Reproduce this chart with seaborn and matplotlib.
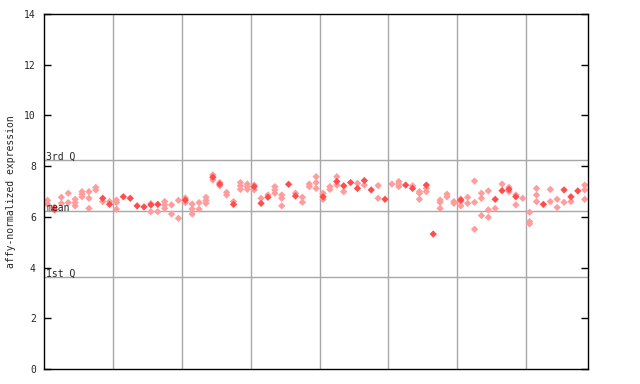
import numpy as np
import pandas as pd
import matplotlib
matplotlib.use("Agg")
import matplotlib.pyplot as plt
import seaborn as sns

# ── data (79 samples, 8 groups) ──
# values drawn as solid diamonds (overlapping replicates)
solid = [
    [], [6.28], [], [], [], [], [], [], [6.73], [6.49],
    [], [6.79], [6.73], [6.43], [6.39], [6.47], [6.49], [], [], [],
    [6.66], [], [], [], [7.56], [7.29], [], [6.49], [], [],
    [7.19], [6.53], [6.77], [], [], [7.28], [6.82], [], [], [],
    [6.79], [], [7.39], [7.22], [7.35], [7.12], [7.43], [7.06], [], [6.69],
    [], [], [7.25], [7.12], [], [7.25], [5.32], [], [], [],
    [6.66], [], [], [], [], [6.69], [7.03], [7.08], [6.79], [],
    [], [], [6.49], [], [], [7.06], [6.79], [7.02], [],
]
# values drawn as lighter (dithered) diamonds
light = [
    [6.65, 6.5], [6.38], [6.77, 6.53], [6.93, 6.56], [6.69, 6.56, 6.43],
    [6.99, 6.89, 6.79], [6.99, 6.73, 6.33], [7.16, 7.06], [6.6], [6.6],
    [6.66, 6.56, 6.3], [], [], [], [], [6.52, 6.2], [6.2], [6.6, 6.47, 6.33], [6.47, 6.11], [6.65, 5.94],
    [6.74, 6.56], [6.5, 6.31, 6.11], [6.56, 6.3], [6.77, 6.64, 6.53], [7.65, 7.45], [7.35, 7.22], [6.96, 6.86], [6.6], [7.35, 7.22, 7.08], [7.29, 7.19, 7.08],
    [7.25, 7.06], [6.73], [6.86], [7.19, 7.06, 6.93], [6.86, 6.73, 6.43], [], [6.93], [6.77, 6.57], [7.29, 7.19], [7.58, 7.35, 7.12],
    [6.93, 6.69], [7.19, 7.08], [7.58, 7.25], [6.99], [], [7.32], [7.25], [], [7.23, 6.73], [],
    [7.29], [7.39, 7.29, 7.19], [], [7.22], [6.99, 6.93, 6.69], [7.12, 6.99], [], [6.66, 6.57, 6.33], [6.89, 6.79], [6.6, 6.53],
    [6.7, 6.6, 6.43], [6.77, 6.53], [7.41, 6.57, 5.51], [6.93, 6.73, 6.05], [7.02, 6.27, 5.98], [6.33], [7.29], [7.16, 6.99], [6.86, 6.47], [6.73],
    [6.18, 5.81, 5.72], [7.12, 6.86, 6.6], [], [7.08, 6.6], [6.69, 6.37], [6.57], [6.6], [], [7.25, 7.06, 6.69],
]
n_samples = len(solid)
group_size = 10
q1, mean_val, q3 = 3.63, 6.23, 8.24
y_ticks = list(range(0, 15, 2))

rows = []
for i in range(n_samples):
    for v in light[i]:
        rows.append({"sample": i + 0.5, "value": v, "kind": "light"})
    for v in solid[i]:
        rows.append({"sample": i + 0.5, "value": v, "kind": "solid"})
df = pd.DataFrame(rows)

# ── figure ──
sns.set_style("white")
plt.rcParams["font.family"] = ["DejaVu Sans Mono"]

fig = plt.figure(figsize=(6.4, 3.84), dpi=100)
ax = fig.add_axes([0.069, 0.039, 0.85, 0.925])

# group dividers and summary lines
for g in range(group_size, n_samples, group_size):
    ax.axvline(g, color="#a8a8a8", lw=1, zorder=1)
for val, lab in [(q3, "3rd Q"), (mean_val, "mean"), (q1, "1st Q")]:
    ax.axhline(val, color="#a8a8a8", lw=1, zorder=1)
    ax.text(0.3, val, lab, fontsize=7, va="baseline", ha="left", zorder=3)

sns.scatterplot(data=df, x="sample", y="value", hue="kind",
                palette={"light": "#ff9c9c", "solid": "#ff4d4d"},
                hue_order=["light", "solid"],
                marker="D", s=14, linewidth=0, legend=False, ax=ax, zorder=2)

ax.set_xlim(0, n_samples)
ax.set_ylim(0, 14)
ax.set_yticks(y_ticks)
ax.set_yticklabels([str(t) for t in y_ticks], fontsize=7)
ax.set_xticks([])
ax.set_xlabel("")
ax.set_ylabel("affy-normalized expression", fontsize=7, labelpad=6)
ax.tick_params(axis="y", direction="in", length=5, width=1, left=True, right=True,
               color="black", pad=6)
for sp in ax.spines.values():
    sp.set_color("black")
    sp.set_linewidth(1)

fig.savefig("out.png", dpi=100)
